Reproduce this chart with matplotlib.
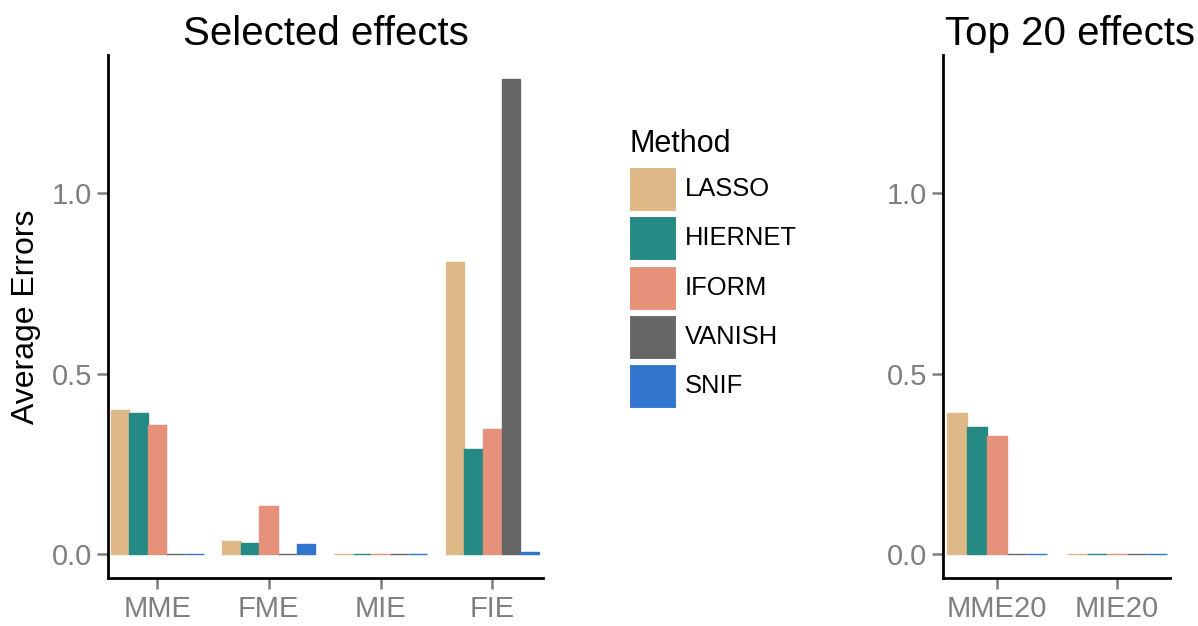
import numpy as np
import matplotlib
matplotlib.use("Agg")
import matplotlib.pyplot as plt
from matplotlib.patches import Rectangle

plt.rcParams['font.family'] = ['Liberation Sans', 'DejaVu Sans']

# Average errors per method, selected effects
effects = ['MME', 'FME', 'MIE', 'FIE']
lasso = [0.398, 0.036, 0.0, 0.808]
hiernet = [0.390, 0.031, 0.0, 0.292]
iform = [0.357, 0.133, 0.0, 0.348]
vanish = [0.0, 0.0, 0.0, 1.313]
snif = [0.0, 0.028, 0.0, 0.008]

# Average errors per method, top 20 effects
effects20 = ['MME20', 'MIE20']
lasso20 = [0.391, 0.0]
hiernet20 = [0.352, 0.0]
iform20 = [0.326, 0.0]
vanish20 = [0.0, 0.0]
snif20 = [0.0, 0.0]

methods = ['LASSO', 'HIERNET', 'IFORM', 'VANISH', 'SNIF']
colors = ['#DEB887', '#258A83', '#E6917A', '#666666', '#3175CE']

tick_grey = '#7F7F7F'
bar_w = 0.167
W, H = 1198, 626


def draw_panel(ax, cats, series, title, xlim, title_x=0.5):
    x = np.arange(len(cats))
    n = len(series)
    for i, (vals, col) in enumerate(zip(series, colors)):
        off = (i - (n - 1) / 2) * bar_w
        ax.bar(x + off, vals, width=bar_w, color=col, edgecolor=col,
               linewidth=1.0)
    ax.set_xticks(x)
    ax.set_xticklabels(cats)
    ax.set_xlim(*xlim)
    ax.set_ylim(-0.065, 1.38)
    ax.set_yticks([0.0, 0.5, 1.0])
    ax.set_yticklabels(['0.0', '0.5', '1.0'])
    for s in ['top', 'right']:
        ax.spines[s].set_visible(False)
    for s in ['left', 'bottom']:
        ax.spines[s].set_linewidth(2.0)
        ax.spines[s].set_color('black')
    ax.tick_params(axis='both', length=8, width=1.8, color=tick_grey,
                   labelcolor=tick_grey, labelsize=21)
    ax.tick_params(axis='x', pad=4)
    ax.tick_params(axis='y', pad=3.5)
    t = ax.set_title(title, fontsize=29, pad=7)
    t.set_x(title_x)


fig = plt.figure(figsize=(W / 100, H / 100), dpi=100)
ax1 = fig.add_axes([108 / W, 1 - 578 / H, 435 / W, 523 / H])
ax2 = fig.add_axes([943 / W, 1 - 578 / H, 227 / W, 523 / H])

draw_panel(ax1, effects, [lasso, hiernet, iform, vanish, snif],
           'Selected effects', (-0.44, 3.455))
draw_panel(ax2, effects20, [lasso20, hiernet20, iform20, vanish20, snif20],
           'Top 20 effects', (-0.45, 1.44), title_x=0.56)

ax1.set_ylabel('Average Errors', fontsize=23, labelpad=8)

# legend built by hand: big square keys, tightly stacked
key_x, key_top, key_w, key_h, key_step = 629, 167, 47, 44, 49.3
fig.text(630 / W, 1 - 152 / H, 'Method', fontsize=22, va='baseline', ha='left')
for i, (m, c) in enumerate(zip(methods, colors)):
    top = key_top + i * key_step
    fig.add_artist(Rectangle((key_x / W, 1 - (top + key_h) / H), key_w / W, key_h / H,
                             transform=fig.transFigure, facecolor=c,
                             edgecolor='white', linewidth=0.8))
    fig.text(685 / W, 1 - (top + key_h / 2) / H, m, fontsize=18.4,
             va='center', ha='left')

fig.savefig('out.png', dpi=100)
